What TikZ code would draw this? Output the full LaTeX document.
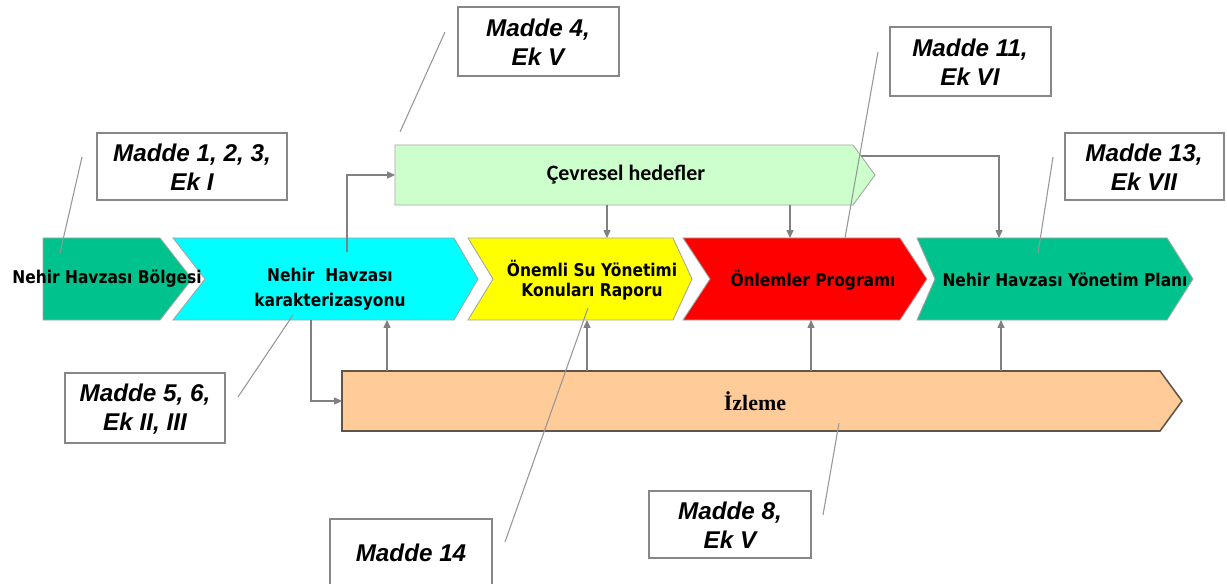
\documentclass[tikz,border=0pt]{standalone}
\usepackage{fontspec}
\setmainfont{Liberation Sans}
\newfontfamily\chevfont[FakeStretch=0.88]{DejaVu Sans}
\newfontfamily\cevfont{Carlito}
\newfontfamily\izlfont{Liberation Serif}
\usetikzlibrary{calc,fit,arrows.meta}

\definecolor{dgreen}{RGB}{0,194,140}
\definecolor{lgreen}{RGB}{204,255,204}
\definecolor{cyanc}{RGB}{0,255,255}
\definecolor{yellowc}{RGB}{255,255,0}
\definecolor{redc}{RGB}{255,0,0}
\definecolor{orangec}{RGB}{255,204,153}
\definecolor{edgegray}{RGB}{165,165,165}
\definecolor{izledge}{RGB}{95,85,75}
\definecolor{arrgray}{RGB}{128,128,128}
\definecolor{leadgray}{RGB}{150,150,150}
\definecolor{refgray}{RGB}{135,135,135}

% chevron outline: node name, style, depth of the left notch, depth of the right tip
\newcommand\chevshape[4]{%
  \path[#2] (#1.north west) -- ($(#1.north east)+(-#4,0)$) -- (#1.east)
    -- ($(#1.south east)+(-#4,0)$) -- (#1.south west) -- ($(#1.west)+(#3,0)$) -- cycle;}

\tikzset{
  area/.style={inner sep=0pt, outer sep=0pt},
  chevedge/.style={draw=edgegray, line width=0.5pt},
  chevtext/.style={font=\chevfont\bfseries\fontsize{10}{14}\selectfont, align=center, inner sep=0pt},
  refbox/.style={draw=refgray, line width=0.8pt, fill=white, inner sep=0pt},
  reftext/.style={inner sep=0pt, font=\bfseries\itshape\fontsize{13.8}{16.4}\selectfont, align=center},
  lead/.style={draw=leadgray, line width=0.6pt},
  link/.style={draw=arrgray, line width=0.6pt},
  arr/.style={link, -{Triangle[length=4.5pt,width=4pt]}}
}

\begin{document}
\begin{tikzpicture}[x=0.02cm, y=-0.02cm]
\path[use as bounding box, clip] (0,0) rectangle (1227,584);
\fill[white] (0,0) rectangle (1227,584);

% areas of the process shapes
\node[area, fit={(43,238) (192,320)}]   (nhb) {};
\node[area, fit={(173,238) (478,320)}]  (nhk) {};
\node[area, fit={(468,238) (692,320)}]  (onm) {};
\node[area, fit={(683,238) (927,320)}]  (onl) {};
\node[area, fit={(917,238) (1193,320)}] (nhy) {};
\node[area, fit={(395,145) (875,205)}]  (cev) {};
\node[area, fit={(342,371) (1182,431)}] (izl) {};

% process shapes
\chevshape{nhb}{chevedge, fill=dgreen}{0}{32}
\chevshape{nhk}{chevedge, fill=cyanc}{32}{24}
\chevshape{onm}{chevedge, fill=yellowc}{25}{19}
\chevshape{onl}{chevedge, fill=redc}{27}{27}
\chevshape{nhy}{chevedge, fill=dgreen}{18}{26}
\chevshape{cev}{chevedge, fill=lgreen}{0}{22}
\chevshape{izl}{draw=izledge, line width=0.9pt, fill=orangec}{0}{22}

% labels of the process shapes
\node[chevtext] (nhbt) at (107,279) {Nehir Havzası Bölgesi};
\node[chevtext, font=\chevfont\bfseries\fontsize{10}{14.2}\selectfont] (nhkt) at (330,289) {Nehir \ Havzası\\karakterizasyonu};
\node[chevtext, font=\chevfont\bfseries\fontsize{10}{11.5}\selectfont] (onmt) at (592,280) {Önemli Su Yönetimi\\Konuları Raporu};
\node[chevtext] (onlt) at (813,280) {Önlemler Programı};
\node[chevtext] (nhyt) at (1065,280) {Nehir Havzası Yönetim Planı};
\node[inner sep=0pt, font=\cevfont\bfseries\fontsize{12.5}{14}\selectfont] (cevt) at (626,175) {Çevresel hedefler};
\node[inner sep=0pt, font=\izlfont\bfseries\fontsize{12.5}{14}\selectfont] (izlt) at (755,401) {İzleme};

% flow connectors
\coordinate (a1) at (347,252);
\draw[arr] (a1) |- (cev.west);
\draw[arr] (cev.south -| 607,0) -- (onm.north -| 607,0);
\draw[arr] (cev.south -| 790,0) -- (onl.north -| 790,0);
\coordinate (a4) at (861,156);
\draw[arr] (a4) -| (nhy.north -| 999,0);
\draw[arr] (nhk.south -| 311,0) |- (izl.west);
\draw[arr] (izl.north -| 387,0) -- (nhk.south -| 387,0);
\draw[arr] (izl.north -| 587,0) -- (onm.south -| 587,0);
\draw[arr] (izl.north -| 811,0) -- (onl.south -| 811,0);
\draw[arr] (izl.north -| 1001,0) -- (nhy.south -| 1001,0);

% reference boxes
\node[refbox, fit={(97,133) (287,200)}]    (m123) {};
\node[refbox, fit={(458,7) (619,76)}]      (m4)   {};
\node[refbox, fit={(890,27) (1051,96)}]    (m11)  {};
\node[refbox, fit={(1065,133) (1224,200)}] (m13)  {};
\node[refbox, fit={(65,373) (225,443)}]    (m56)  {};
\node[refbox, fit={(330,519) (492,600)}]   (m14)  {};
\node[refbox, fit={(649,491) (811,558)}]   (m8)   {};
\node[reftext] (m123t) at (192,167) {Madde 1, 2, 3,\\Ek I};
\node[reftext] (m4t)   at (538,42)  {Madde 4,\\Ek V};
\node[reftext] (m11t)  at (970,62)  {Madde 11,\\Ek VI};
\node[reftext] (m13t)  at (1144,167) {Madde 13,\\Ek VII};
\node[reftext] (m56t)  at (145,409) {Madde 5, 6,\\Ek II, III};
\node[reftext] (m14t)  at (411,553) {Madde 14};
\node[reftext] (m8t)   at (730,525) {Madde 8,\\Ek V};

% leader lines from the reference boxes
\coordinate (l1a) at (82,157);   \coordinate (l1b) at (60,253);
\coordinate (l4a) at (445,32);   \coordinate (l4b) at (400,132);
\coordinate (l11a) at (878,52);  \coordinate (l11b) at (845,238);
\coordinate (l13a) at (1053,157); \coordinate (l13b) at (1038,253);
\coordinate (l56a) at (238,397); \coordinate (l56b) at (293,315);
\coordinate (l14a) at (505,542); \coordinate (l14b) at (588,308);
\coordinate (l8a) at (823,515);  \coordinate (l8b) at (839,423);
\draw[lead] (l1a) -- (l1b);
\draw[lead] (l4a) -- (l4b);
\draw[lead] (l11a) -- (l11b);
\draw[lead] (l13a) -- (l13b);
\draw[lead] (l56a) -- (l56b);
\draw[lead] (l14a) -- (l14b);
\draw[lead] (l8a) -- (l8b);
\end{tikzpicture}
\end{document}
